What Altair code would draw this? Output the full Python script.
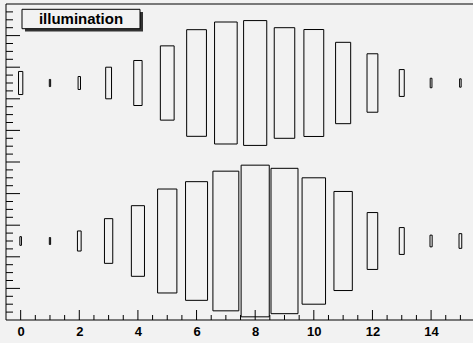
import altair as alt
import pandas as pd

# Box sizes (fraction of the cell) for each x-bin, one list per y-bin
x_bins = list(range(16))
upper_row = [0.146, 0.045, 0.082, 0.20, 0.285, 0.47, 0.675, 0.772,
             0.79, 0.70, 0.677, 0.515, 0.37, 0.17, 0.06, 0.053]
lower_row = [0.055, 0.044, 0.127, 0.283, 0.447, 0.658, 0.751, 0.884,
             0.96, 0.92, 0.80, 0.627, 0.36, 0.17, 0.074, 0.093]
row_centers = {"upper": 1.5, "lower": 0.5}

# Axis divisions
x_labels = [0, 2, 4, 6, 8, 10, 12, 14]
x_minor = [v / 2 for v in range(1, 31) if v % 4 != 0]
y_major = [round(0.2 * k, 2) for k in range(1, 10)]
y_minor = [round(0.05 * k, 2) for k in range(1, 40) if k % 4 != 0]

W, H = 467, 316
FONT = "Liberation Sans"
BG = "#f2f2f2"

rows = []
for name, sizes in (("upper", upper_row), ("lower", lower_row)):
    for xb, s in zip(x_bins, sizes):
        rows.append({"x": xb, "yc": row_centers[name], "size": s})
cells = pd.DataFrame(rows)

xs = alt.Scale(domain=[-0.5, 15.43], nice=False, zero=False)
ys = alt.Scale(domain=[0, 2], nice=False, zero=False)

# Shared x axis: labels only, the inward ticks are drawn as rules
x_axis = alt.Axis(
    values=x_labels, ticks=False, domain=False, grid=False,
    labelFont=FONT, labelFontSize=13, labelFontWeight="bold",
    labelColor="black", labelPadding=5, labelFlush=False, title=None,
)

boxes = (
    alt.Chart(cells)
    .transform_calculate(
        x1="datum.x - datum.size / 2",
        x2="datum.x + datum.size / 2",
        y1="datum.yc - datum.size / 2",
        y2="datum.yc + datum.size / 2",
    )
    .mark_rect(filled=False, stroke="black", strokeWidth=1)
    .encode(
        x=alt.X("x1:Q", scale=xs, axis=x_axis),
        x2="x2:Q",
        y=alt.Y("y1:Q", scale=ys, axis=None),
        y2="y2:Q",
    )
)


def x_ticks(values, length):
    return (
        alt.Chart(pd.DataFrame({"v": values}))
        .mark_rule(color="black", strokeWidth=1)
        .encode(
            x=alt.X("v:Q", scale=xs, axis=x_axis),
            y=alt.value(H),
            y2=alt.value(H - length),
        )
    )


def y_ticks(values, length):
    return (
        alt.Chart(pd.DataFrame({"v": values}))
        .mark_rule(color="black", strokeWidth=1)
        .encode(
            y=alt.Y("v:Q", scale=ys, axis=None),
            x=alt.value(0),
            x2=alt.value(length),
        )
    )


one = pd.DataFrame({"k": [0]})

frame_top = alt.Chart(one).mark_rule(color="black", strokeWidth=1).encode(
    x=alt.value(0), x2=alt.value(W), y=alt.value(0))
frame_left = alt.Chart(one).mark_rule(color="black", strokeWidth=1).encode(
    x=alt.value(0), y=alt.value(0), y2=alt.value(H))
frame_bottom = alt.Chart(one).mark_rule(color="black", strokeWidth=1).encode(
    x=alt.value(0), x2=alt.value(W), y=alt.value(H))

# Title pave with drop shadow
shadow = alt.Chart(one).mark_rect(color="#333333").encode(
    x=alt.value(19), x2=alt.value(137), y=alt.value(8), y2=alt.value(27.5))
pave = alt.Chart(one).mark_rect(fill=BG, stroke="black", strokeWidth=1).encode(
    x=alt.value(16), x2=alt.value(134), y=alt.value(5.3), y2=alt.value(24.7))
title = alt.Chart(one).mark_text(
    text="illumination", font=FONT, fontSize=15, fontWeight="bold",
    color="black", align="center", baseline="middle",
).encode(x=alt.value(75), y=alt.value(15))

chart = (
    alt.layer(
        boxes,
        x_ticks(x_labels, 10), x_ticks(x_minor, 5),
        y_ticks(y_major, 14), y_ticks(y_minor, 7),
        frame_top, frame_left, frame_bottom,
        shadow, pave, title,
    )
    .properties(
        width=W, height=H,
        padding={"left": 6, "top": 4, "right": 0, "bottom": 23},
        autosize=alt.AutoSizeParams(type="none"),
        background=BG,
    )
    .configure_view(stroke=None)
)

chart.save("out.html", embed_options={"renderer": "svg", "actions": False})
